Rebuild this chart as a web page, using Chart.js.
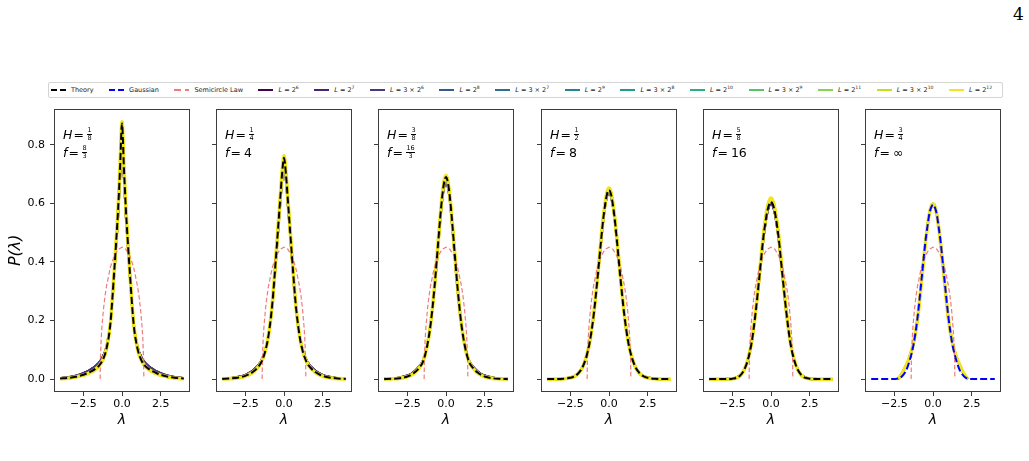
<!DOCTYPE html>
<html><head><meta charset="utf-8">
<script src="https://cdn.jsdelivr.net/npm/chart.js@4.4.0/dist/chart.umd.min.js"></script>
<style>
html,body{margin:0;padding:0;background:#fff;width:1029px;height:461px;overflow:hidden;font-family:'DejaVu Sans',sans-serif;}
#wrap{position:relative;width:1029px;height:461px;}
canvas.panel{position:absolute;top:97px;}
#legend{position:absolute;left:48px;top:82px;width:955px;height:16px;border:1px solid #d4d4d4;border-radius:2px;box-sizing:border-box;display:flex;align-items:center;padding-left:2px;font-size:6.5px;color:#222;background:#fff;}
.item{display:flex;align-items:center;margin-right:15.5px;white-space:nowrap;}
.handle{width:15px;margin-right:5px;}
.ann{position:absolute;font-size:12.5px;line-height:12.5px;color:#000;white-space:nowrap;}
.ann i{font-style:italic;}
.eq{margin:0 3px 0 1px;}
.frac{display:inline-flex;flex-direction:column;align-items:center;vertical-align:middle;font-size:6.5px;line-height:5.4px;font-style:normal;position:relative;top:-1px;}
.frac .num{border-bottom:0.7px solid #000;padding:0 0.5px 0.6px;}
.frac .den{padding-top:0.6px;}
#page{position:absolute;left:1013px;top:4px;font-family:'DejaVu Serif',serif;font-size:17px;color:#000;}
sup{font-size:70%;line-height:0;vertical-align:super;}
</style>
</head>
<body>
<div id="wrap">
  <div id="page">4</div>
  <div id="legend"></div>
</div>
<script>
// ---------------- data ----------------
const lambda = [-4,-3.5,-3,-2.5,-2.25,-2,-1.75,-1.5,-1.25,-1,-0.75,-0.5,-0.375,-0.25,-0.125,0,0.125,0.25,0.375,0.5,0.75,1,1.25,1.5,1.75,2,2.25,2.5,3,3.5,4];

// H = 1/8
const theoryH1 = [0.002,0.004,0.008,0.015,0.020,0.026,0.034,0.045,0.065,0.105,0.19,0.37,0.47,0.58,0.72,0.872,0.72,0.58,0.47,0.37,0.19,0.105,0.065,0.045,0.034,0.026,0.020,0.015,0.008,0.004,0.002];
const largeLH1 = [0.001,0.003,0.007,0.013,0.018,0.024,0.032,0.044,0.064,0.104,0.19,0.37,0.475,0.585,0.725,0.878,0.725,0.585,0.475,0.37,0.19,0.104,0.064,0.044,0.032,0.024,0.018,0.013,0.007,0.003,0.001];
const smallLH1 = [0.003,0.006,0.011,0.020,0.026,0.034,0.043,0.055,0.075,0.11,0.19,0.36,0.46,0.56,0.69,0.80,0.69,0.56,0.46,0.36,0.19,0.11,0.075,0.055,0.043,0.034,0.026,0.020,0.011,0.006,0.003];

// H = 1/4
const theoryH2 = [0.0007,0.002,0.005,0.011,0.017,0.025,0.037,0.055,0.088,0.15,0.26,0.43,0.52,0.61,0.70,0.755,0.70,0.61,0.52,0.43,0.26,0.15,0.088,0.055,0.037,0.025,0.017,0.011,0.005,0.002,0.0007];
const largeLH2 = [0.0005,0.0015,0.004,0.010,0.016,0.024,0.036,0.055,0.088,0.15,0.262,0.435,0.525,0.615,0.705,0.762,0.705,0.615,0.525,0.435,0.262,0.15,0.088,0.055,0.036,0.024,0.016,0.010,0.004,0.0015,0.0005];
const smallLH2 = [0.001,0.003,0.007,0.014,0.021,0.030,0.042,0.060,0.092,0.15,0.255,0.42,0.51,0.595,0.68,0.735,0.68,0.595,0.51,0.42,0.255,0.15,0.092,0.060,0.042,0.030,0.021,0.014,0.007,0.003,0.001];

// H = 3/8
const theoryH3 = [0.0003,0.001,0.003,0.009,0.015,0.024,0.038,0.058,0.105,0.185,0.31,0.47,0.55,0.62,0.67,0.69,0.67,0.62,0.55,0.47,0.31,0.185,0.105,0.058,0.038,0.024,0.015,0.009,0.003,0.001,0.0003];
const largeLH3 = [0.0002,0.0008,0.0025,0.008,0.014,0.023,0.037,0.058,0.105,0.186,0.312,0.473,0.553,0.624,0.675,0.695,0.675,0.624,0.553,0.473,0.312,0.186,0.105,0.058,0.037,0.023,0.014,0.008,0.0025,0.0008,0.0002];
const smallLH3 = [0.0006,0.002,0.005,0.012,0.018,0.028,0.042,0.062,0.107,0.185,0.305,0.46,0.54,0.61,0.655,0.675,0.655,0.61,0.54,0.46,0.305,0.185,0.107,0.062,0.042,0.028,0.018,0.012,0.005,0.002,0.0006];

// H = 1/2
const theoryH4 = [0,0.0002,0.001,0.0045,0.009,0.019,0.037,0.07,0.125,0.215,0.34,0.48,0.545,0.595,0.632,0.645,0.632,0.595,0.545,0.48,0.34,0.215,0.125,0.07,0.037,0.019,0.009,0.0045,0.001,0.0002,0];
const largeLH4 = [0,0.0001,0.0008,0.004,0.0085,0.018,0.036,0.07,0.126,0.217,0.343,0.485,0.55,0.601,0.638,0.652,0.638,0.601,0.55,0.485,0.343,0.217,0.126,0.07,0.036,0.018,0.0085,0.004,0.0008,0.0001,0];
const smallLH4 = [0,0.0003,0.0015,0.0055,0.010,0.020,0.038,0.071,0.125,0.213,0.337,0.475,0.54,0.59,0.625,0.637,0.625,0.59,0.54,0.475,0.337,0.213,0.125,0.071,0.038,0.020,0.010,0.0055,0.0015,0.0003,0];

// H = 5/8
const theoryH5 = [0,0,0.0002,0.0015,0.004,0.012,0.03,0.065,0.125,0.225,0.35,0.48,0.53,0.57,0.595,0.605,0.595,0.57,0.53,0.48,0.35,0.225,0.125,0.065,0.03,0.012,0.004,0.0015,0.0002,0,0];
const largeLH5 = [0,0,0.0001,0.001,0.0035,0.011,0.03,0.066,0.128,0.229,0.357,0.489,0.54,0.581,0.607,0.618,0.607,0.581,0.54,0.489,0.357,0.229,0.128,0.066,0.03,0.011,0.0035,0.001,0.0001,0,0];
const smallLH5 = [0,0,0.0004,0.002,0.005,0.013,0.031,0.066,0.125,0.223,0.347,0.475,0.525,0.565,0.59,0.60,0.59,0.565,0.525,0.475,0.347,0.223,0.125,0.066,0.031,0.013,0.005,0.002,0.0004,0,0];

// H = 3/4 (f = infinity): Gaussian instead of theory
const gaussianH6 = [0,0,0,0.0005,0.002,0.01,0.028,0.065,0.12,0.21,0.335,0.465,0.515,0.56,0.585,0.595,0.585,0.56,0.515,0.465,0.335,0.21,0.12,0.065,0.028,0.01,0.002,0.0005,0,0,0];
const largeLH6 = [null,null,null,null,0,0.02,0.045,0.078,0.125,0.205,0.33,0.46,0.515,0.56,0.588,0.598,0.588,0.56,0.515,0.46,0.33,0.205,0.125,0.078,0.045,0.018,0,null,null,null,null];
const smallLH6 = largeLH6;

// semicircle law
const semiX = [-1.414,-1.4,-1.35,-1.3,-1.2,-1.1,-1.0,-0.75,-0.5,-0.25,0,0.25,0.5,0.75,1.0,1.1,1.2,1.3,1.35,1.4,1.414];
const semiY = [0,0.064,0.134,0.177,0.238,0.283,0.318,0.382,0.421,0.443,0.450,0.443,0.421,0.382,0.318,0.283,0.238,0.177,0.134,0.064,0];

// panel texts
const hNum = ['1','1','3','1','5','3'];
const hDen = ['8','4','8','2','8','4'];
const fNum = ['8','4','16','8','16','∞'];
const fDen = ['3',null,'3',null,null,null];

// series labels
const Lbase = ['2','2','3 × 2','2','3 × 2','2','3 × 2','2','3 × 2','2','3 × 2','2'];
const Lexp  = ['6','7','6','8','7','9','8','10','9','11','10','12'];
const Lcolors = ['#440154','#482475','#443a83','#38598c','#2d6f8e','#25858e','#1e9b8a','#2ab07f','#51c56a','#85d54a','#c2df23','#f0e51f'];

const xTicks = [-2.5, 0, 2.5];
const yTicks = [0, 0.2, 0.4, 0.6, 0.8];

const theories = [theoryH1, theoryH2, theoryH3, theoryH4, theoryH5, null];
const gaussians = [null, null, null, null, null, gaussianH6];
const largeL = [largeLH1, largeLH2, largeLH3, largeLH4, largeLH5, largeLH6];
const smallL = [smallLH1, smallLH2, smallLH3, smallLH4, smallLH5, smallLH6];

// ---------------- layout ----------------
const panelLefts = [54, 216, 378, 541, 703, 865];
const plotW = 136;
const axisW = 54;
const wrap = document.getElementById('wrap');

const fmt = v => v.toFixed(1).replace('-', '\u2212');
const pts = (xs, ys) => xs.map((x, i) => ({x: x, y: ys[i]}));

const framePlugin = {
  id: 'frame',
  afterDatasetsDraw(chart) {
    const {ctx, chartArea: a} = chart;
    ctx.save();
    ctx.strokeStyle = '#3c3c3c';
    ctx.lineWidth = 1;
    ctx.strokeRect(Math.round(a.left) + 0.5, Math.round(a.top) + 0.5, Math.round(a.right - a.left) - 1, Math.round(a.bottom - a.top) - 1);
    ctx.restore();
  }
};

function gridCfg() {
  return {display: true, drawOnChartArea: false, drawTicks: true, tickLength: 4, color: '#3c3c3c', tickColor: '#3c3c3c', lineWidth: 1};
}

for (let p = 0; p < 6; p++) {
  const cv = document.createElement('canvas');
  cv.className = 'panel';
  cv.width = axisW + plotW + 6;
  cv.height = 335;
  cv.style.left = (panelLefts[p] - axisW) + 'px';
  wrap.appendChild(cv);

  const datasets = [];
  if (theories[p]) datasets.push({label: 'Theory', data: pts(lambda, theories[p]), borderColor: '#000', borderWidth: 2, borderDash: [7, 3], order: 0, fill: false});
  if (gaussians[p]) datasets.push({label: 'Gaussian', data: pts(lambda, gaussians[p]), borderColor: '#0000ff', borderWidth: 2, borderDash: [7, 3], order: 1, fill: false});
  datasets.push({label: 'Semicircle Law', data: pts(semiX, semiY), borderColor: 'rgba(240,115,115,0.95)', borderWidth: 1.2, borderDash: [4.5, 2.5], order: 2, fill: false, cubicInterpolationMode: 'default', tension: 0});
  for (let k = 0; k < 12; k++) {
    const arr = k < 3 ? smallL[p] : largeL[p];
    datasets.push({label: 'L = ' + Lbase[k] + '^' + Lexp[k], data: pts(lambda, arr), borderColor: Lcolors[k], borderWidth: k === 11 ? 3.6 : 2.2, order: 14 - k, fill: false});
  }

  new Chart(cv, {
    type: 'line',
    data: {datasets: datasets},
    plugins: [framePlugin],
    options: {
      responsive: false, animation: false, devicePixelRatio: 1,
      layout: {padding: {left: 0, right: 6, top: 5, bottom: 0}},
      plugins: {legend: {display: false}, tooltip: {enabled: false}},
      elements: {point: {radius: 0}, line: {cubicInterpolationMode: 'monotone'}},
      scales: {
        x: {
          type: 'linear', min: -4.4, max: 4.4,
          afterBuildTicks: s => { s.ticks = xTicks.map(v => ({value: v})); },
          afterFit: s => { s.height = 40; },
          ticks: {callback: v => fmt(v), font: {family: 'DejaVu Sans', size: 11}, color: '#000', padding: 2, maxRotation: 0, autoSkip: false},
          grid: gridCfg(), border: {display: false},
          title: {display: true, text: 'λ', font: {family: 'DejaVu Sans', size: 14, style: 'italic'}, color: '#000', padding: {top: 0, bottom: 3}}
        },
        y: {
          type: 'linear', min: -0.044, max: 0.923,
          afterBuildTicks: s => { s.ticks = yTicks.map(v => ({value: v})); },
          afterFit: s => { s.width = axisW; },
          ticks: {callback: v => (p === 0 ? fmt(v) : ''), font: {family: 'DejaVu Sans', size: 11}, color: '#000', padding: 5, autoSkip: false},
          grid: gridCfg(), border: {display: false},
          title: {display: p === 0, text: 'P(λ)', font: {family: 'DejaVu Sans', size: 16, style: 'italic'}, color: '#000', padding: {top: 6, bottom: 0}}
        }
      }
    }
  });

  // panel annotation
  const mk = (num, den) => den ? '<span class="frac"><span class="num">' + num + '</span><span class="den">' + den + '</span></span>' : '<span>' + num + '</span>';
  const a1 = document.createElement('div');
  a1.className = 'ann';
  a1.style.left = (panelLefts[p] + 9) + 'px';
  a1.style.top = '129px';
  a1.innerHTML = '<i>H</i><span class="eq">=</span>' + mk(hNum[p], hDen[p]);
  wrap.appendChild(a1);
  const a2 = document.createElement('div');
  a2.className = 'ann';
  a2.style.left = (panelLefts[p] + 9) + 'px';
  a2.style.top = '147px';
  a2.innerHTML = '<i>f</i><span class="eq">=</span>' + mk(fNum[p], fDen[p]);
  wrap.appendChild(a2);
}

// ---------------- legend ----------------
const legend = document.getElementById('legend');
function addItem(bg, h, html) {
  const it = document.createElement('div');
  it.className = 'item';
  it.innerHTML = '<span class="handle" style="height:' + h + 'px;background:' + bg + '"></span><span>' + html + '</span>';
  legend.appendChild(it);
}
addItem('repeating-linear-gradient(to right,#000 0 6px,transparent 6px 9px)', 2, 'Theory');
addItem('repeating-linear-gradient(to right,#0000ff 0 6px,transparent 6px 9px)', 2, 'Gaussian');
addItem('repeating-linear-gradient(to right,rgba(240,115,115,0.95) 0 7px,transparent 7px 11px)', 1.6, 'Semicircle Law');
for (let k = 0; k < 12; k++) {
  addItem(Lcolors[k], 1.6, '<i>L</i> = ' + Lbase[k] + '<sup>' + Lexp[k] + '</sup>');
}
</script>
</body></html>
